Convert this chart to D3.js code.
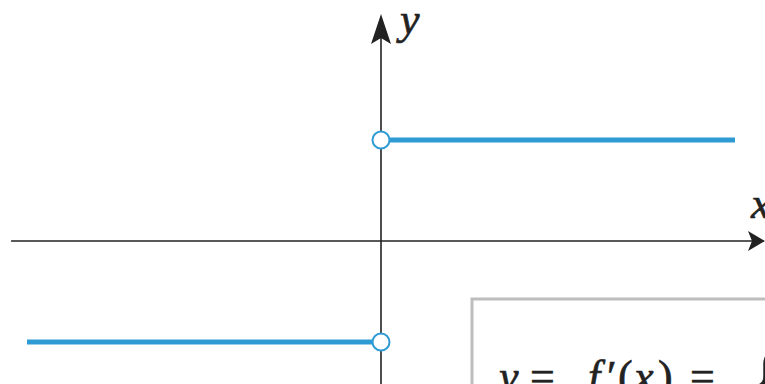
<!DOCTYPE html>
<html>
<head>
<meta charset="utf-8">
<script src="https://cdn.jsdelivr.net/npm/d3@7"></script>
<style>
  body { margin: 0; background: #fff; overflow: hidden; }
  svg { display: block; }
  .math { font-family: "Liberation Serif", "Times New Roman", "DejaVu Serif", serif; }
</style>
</head>
<body>
<div id="chart-area"></div>
<script>
// step function f'(x): -1 for x < 0, 1 for x > 0
var segX0 = [-1, 0];
var segX1 = [0, 1];
var segY = [-1, 1];
var holeX = [0, 0];
var holeY = [1, -1];

var width = 765, height = 384;
var blue = "#2f9bd5";

var svg = d3.select("#chart-area")
  .append("svg")
    .attr("width", width)
    .attr("height", height);

var x = d3.scaleLinear().domain([-1, 1]).range([27, 735]);
var y = d3.scaleLinear().domain([-1, 1]).range([342, 140]);

var segs = segX0.map(function(d, i) {
  return { x0: d, x1: segX1[i], y: segY[i] };
});
var holes = holeX.map(function(d, i) {
  return { x: d, y: holeY[i] };
});

// X axis
svg.append("line")
  .attr("x1", x(-1.045)).attr("x2", 756)
  .attr("y1", y(0)).attr("y2", y(0))
  .attr("stroke", "#222").attr("stroke-width", 1.6);
svg.append("path")
  .attr("d", "M765," + y(0) + " L748," + (y(0) - 10) + " L752," + y(0) + " L748," + (y(0) + 10) + " Z")
  .attr("fill", "#222");

// Y axis
svg.append("line")
  .attr("x1", x(0)).attr("x2", x(0))
  .attr("y1", 30).attr("y2", height)
  .attr("stroke", "#222").attr("stroke-width", 1.6);
svg.append("path")
  .attr("d", "M" + x(0) + ",14 L" + (x(0) - 10) + ",44 L" + x(0) + ",38 L" + (x(0) + 10) + ",44 Z")
  .attr("fill", "#222");

// axis labels
svg.append("text")
  .attr("class", "math")
  .attr("x", 400).attr("y", 34)
  .attr("font-style", "italic")
  .attr("font-size", "44px")
  .attr("fill", "#222")
  .attr("stroke", "#222").attr("stroke-width", 0.6)
  .text("y");

svg.append("text")
  .attr("class", "math")
  .attr("x", 751).attr("y", 218)
  .attr("font-style", "italic")
  .attr("font-size", "44px")
  .attr("fill", "#222")
  .attr("stroke", "#222").attr("stroke-width", 0.6)
  .text("x");

// segments
svg.selectAll(".seg")
  .data(segs)
  .enter().append("line")
    .attr("class", "seg")
    .attr("x1", function(d) { return x(d.x0); })
    .attr("x2", function(d) { return x(d.x1); })
    .attr("y1", function(d) { return y(d.y); })
    .attr("y2", function(d) { return y(d.y); })
    .attr("stroke", blue)
    .attr("stroke-width", 5);

// open circles
svg.selectAll(".hole")
  .data(holes)
  .enter().append("circle")
    .attr("class", "hole")
    .attr("cx", function(d) { return x(d.x); })
    .attr("cy", function(d) { return y(d.y); })
    .attr("r", 8.5)
    .attr("fill", "#fff")
    .attr("stroke", blue)
    .attr("stroke-width", 2);

// formula box
svg.append("rect")
  .attr("x", 472).attr("y", 299)
  .attr("width", 320).attr("height", 120)
  .attr("fill", "#fff")
  .attr("stroke", "#bdbdbd")
  .attr("stroke-width", 3);

var formula = svg.append("text")
  .attr("class", "math")
  .attr("y", 391)
  .attr("font-size", "44px")
  .attr("fill", "#222")
  .attr("stroke", "#222").attr("stroke-width", 0.6);
formula.append("tspan").attr("x", 499).attr("font-style", "italic").text("y");
formula.append("tspan").attr("x", 530).text("=");
formula.append("tspan").attr("x", 588).attr("font-style", "italic").text("f");
formula.append("tspan").attr("x", 607).text("′");
formula.append("tspan").attr("x", 618).text("(");
formula.append("tspan").attr("x", 634).attr("font-style", "italic").text("x");
formula.append("tspan").attr("x", 658).text(")");
formula.append("tspan").attr("x", 690).text("=");
formula.append("tspan").attr("x", 748).attr("font-size", "80px").attr("y", 408).text("{");
</script>
</body>
</html>
